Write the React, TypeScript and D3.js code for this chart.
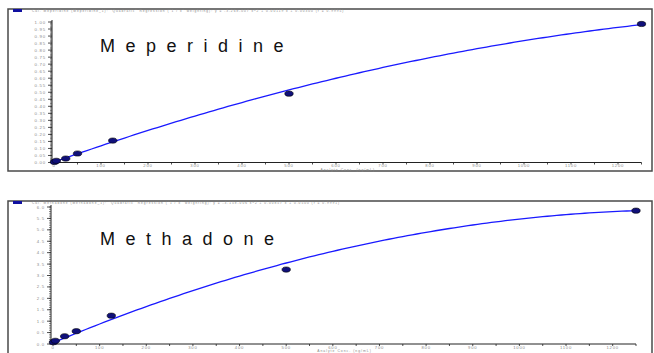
import React from 'react';
import * as d3 from 'd3';

// calibration levels (ng/mL)
const concentrations = [1, 5, 25, 50, 125, 500, 1250];

// area ratios
const meperidineRatio = [0.004, 0.012, 0.028, 0.064, 0.156, 0.49, 0.986];
const methadoneRatio = [0.08, 0.14, 0.34, 0.56, 1.24, 3.26, 5.84];

// quadratic regression coefficients: a + b x + c x^2
const meperidineFit = [0.003, 0.00119, -3.26e-7];
const methadoneFit = [0.05, 0.00857, -3.15e-6];

const meperidineTitle =
  'Cal. Meperidine (Meperidine_1): "Quadratic" Regression ("1 / x" weighting): y = -3.26e-007 x^2 + 0.00119 x + 0.00300 (r = 0.9995)';
const methadoneTitle =
  'Cal. Methadone (Methadone_1): "Quadratic" Regression ("1 / x" weighting): y = -3.15e-006 x^2 + 0.00857 x + 0.0500 (r = 0.9991)';

const xTicks = d3.range(0, 1201, 100);
const xLabel = 'Analyte Conc. (ng/mL)';

const BLUE = '#1a1aff';
const GREY = '#8a8a8a';

type PanelProps = {
  top: number;
  bottom: number;
  name: string;
  title: string;
  ratio: number[];
  fit: number[];
  yMax: number;
  yStep: number;
  yMinor: number;
  xRange: [number, number];
  yRange: [number, number];
  nameY: number;
};

const Panel = ({ top, bottom, name, title, ratio, fit, yMax, yStep, yMinor, xRange, yRange, nameY }: PanelProps) => {
  const x = d3.scaleLinear().domain([0, 1250]).range(xRange);
  const y = d3.scaleLinear().domain([0, yMax]).range(yRange);

  const curve = d3.range(0, 1251, 10).map(c => [c, fit[0] + fit[1] * c + fit[2] * c * c]);
  const line = d3.line<number[]>().x(d => x(d[0])).y(d => y(d[1]))(curve);

  const yTicks = d3.range(0, yMax + 1e-9, yStep);
  const yMinorTicks = d3.range(0, yMax + 1e-9, yMinor);
  const xMinorTicks = d3.range(0, 1251, 50);
  const fmt = yStep < 0.1 ? d3.format('.2f') : d3.format('.1f');

  return (
    <g>
      <rect x={8} y={top} width={644} height={bottom - top} fill="white" stroke="#4a4a4a" strokeWidth={1.5} />
      <rect x={13} y={top} width={9} height={3} fill="#1010a0" />
      <text x={32} y={top + 3} fontSize={3.2} fill={GREY} fontFamily="Liberation Sans, Arial" letterSpacing={1}>
        {title}
      </text>

      <text x={100} y={nameY} fontSize={18} fontFamily="Liberation Sans, Arial" letterSpacing={10.5} fill="#111">
        {name}
      </text>

      {/* y axis */}
      <line x1={xRange[0] - 2} x2={xRange[0] - 2} y1={yRange[1] - 2} y2={yRange[0]} stroke="#222" />
      {yMinorTicks.map((t, i) => (
        <line key={'ym' + i} x1={xRange[0] - 4} x2={xRange[0] - 2} y1={y(t)} y2={y(t)} stroke="#333" strokeWidth={0.6} />
      ))}
      {yTicks.map((t, i) => (
        <g key={'y' + i}>
          <line x1={xRange[0] - 6} x2={xRange[0] - 2} y1={y(t)} y2={y(t)} stroke="#222" strokeWidth={0.8} />
          <text x={xRange[0] - 8} y={y(t) + 1.5} fontSize={4.3} textAnchor="end" fill={GREY} fontFamily="Liberation Sans, Arial" letterSpacing={0.8}>
            {fmt(t)}
          </text>
        </g>
      ))}

      {/* x axis */}
      <line x1={xRange[0] - 2} x2={x(1250)} y1={yRange[0]} y2={yRange[0]} stroke="#222" />
      {xMinorTicks.map((t, i) => (
        <line key={'xm' + i} x1={x(t)} x2={x(t)} y1={yRange[0]} y2={yRange[0] + 2} stroke="#222" strokeWidth={0.8} />
      ))}
      {xTicks.map((t, i) => (
        <text key={'x' + i} x={x(t)} y={yRange[0] + 4.6} fontSize={4.2} textAnchor="middle" fill={GREY} fontFamily="Liberation Sans, Arial" letterSpacing={0.8}>
          {t}
        </text>
      ))}
      <text x={x(625)} y={yRange[0] + 8.4} fontSize={3.4} textAnchor="middle" fill={GREY} fontFamily="Liberation Sans, Arial" letterSpacing={1}>
        {xLabel}
      </text>

      <path d={line ?? ''} fill="none" stroke={BLUE} strokeWidth={1.3} />
      {concentrations.map((c, i) => (
        <ellipse key={'p' + i} cx={x(c)} cy={y(ratio[i])} rx={4.2} ry={2.6} fill="#10107a" stroke="#000" strokeWidth={0.6} />
      ))}
    </g>
  );
};

const App = () => {
  return (
    <svg width={654} height={353} style={{ position: 'absolute', left: 0, top: 0, background: 'white' }}>
      <rect x={0} y={0} width={654} height={353} fill="white" />
      <Panel
        top={9}
        bottom={171}
        name="Meperidine"
        title={meperidineTitle}
        ratio={meperidineRatio}
        fit={meperidineFit}
        yMax={1}
        yStep={0.05}
        yMinor={0.01}
        xRange={[54, 641.5]}
        yRange={[162.5, 22]}
        nameY={52}
      />
      <Panel
        top={201}
        bottom={354}
        name="Methadone"
        title={methadoneTitle}
        ratio={methadoneRatio}
        fit={methadoneFit}
        yMax={6}
        yStep={0.5}
        yMinor={0.1}
        xRange={[53, 636]}
        yRange={[344, 207]}
        nameY={245}
      />
    </svg>
  );
};

export default App;
